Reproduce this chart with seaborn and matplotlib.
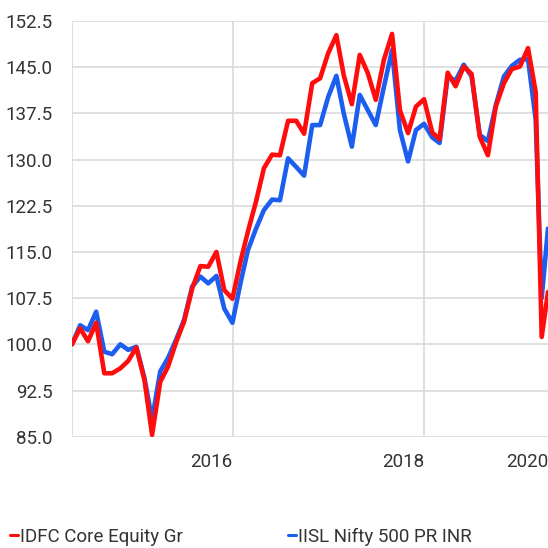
import matplotlib
matplotlib.use("Agg")
import matplotlib.pyplot as plt
from matplotlib.lines import Line2D
import numpy as np
import pandas as pd
import seaborn as sns

# ---------------- data ----------------
series_names = ["IDFC Core Equity Gr", "IISL Nifty 500 PR INR"]
series_colors = ["#ff0d0d", "#1c5ef0"]

month_ends = list(pd.date_range("2015-04-01", periods=59, freq="MS") + pd.offsets.MonthEnd(0))
extra_dates = [pd.Timestamp("2020-03-23"), pd.Timestamp("2020-04-16")]
dates = month_ends + extra_dates

idfc = [100.0, 102.6, 100.5, 103.5, 95.3, 95.3, 96.1, 97.3, 99.5, 94.2,
        85.3, 93.9, 96.4, 100.4, 103.7, 109.1, 112.7, 112.6, 115.0, 108.8,
        107.4, 113.5, 118.3, 123.2, 128.6, 130.8, 130.7, 136.3, 136.3, 134.2,
        142.4, 143.2, 147.3, 150.2, 143.7, 139.0, 147.0, 144.0, 139.7, 146.2,
        150.4, 138.0, 134.3, 138.6, 139.8, 134.4, 133.3, 144.1, 141.9, 145.1,
        143.9, 133.7, 130.7, 138.6, 142.4, 144.7, 145.1, 148.1, 141.0,
        101.2, 108.5]

nifty = [100.0, 103.1, 102.3, 105.3, 98.8, 98.4, 100.0, 99.1, 99.6, 94.5,
         87.8, 95.6, 97.8, 100.8, 104.0, 109.4, 111.0, 109.9, 111.1, 105.8,
         103.5, 110.0, 115.3, 118.8, 121.8, 123.5, 123.4, 130.2, 128.8, 127.4,
         135.6, 135.6, 140.2, 143.6, 137.5, 132.1, 140.5, 138.0, 135.6, 141.8,
         147.8, 134.8, 129.7, 134.8, 135.8, 133.6, 132.7, 143.5, 142.8, 145.4,
         143.5, 134.0, 133.0, 138.8, 143.5, 145.2, 146.2, 146.3, 136.5,
         107.5, 118.8]

y_ticks = [85.0, 92.5, 100.0, 107.5, 115.0, 122.5, 130.0, 137.5, 145.0, 152.5]
x_tick_dates = [pd.Timestamp("2017-01-01"), pd.Timestamp("2019-01-01")]
x_tick_labels = ["2016", "2018"]
x_end_label = "2020"

# ---------------- style ----------------
sns.set_style("white")
plt.rcParams["font.family"] = ["Liberation Sans Narrow", "Roboto", "DejaVu Sans"]

grid_color = "#dadada"
text_color = "#333333"
fs = 13.5

df = pd.DataFrame({
    "date": dates * 2,
    "value": idfc + nifty,
    "series": [series_names[0]] * len(dates) + [series_names[1]] * len(dates),
})

fig = plt.figure(figsize=(5.48, 5.48), dpi=100)
ax = fig.add_axes([72 / 548, 1 - 436.7 / 548, 476 / 548, (436.7 - 21) / 548])

sns.lineplot(data=df, x="date", y="value", hue="series",
             hue_order=[series_names[1], series_names[0]],
             palette={series_names[0]: series_colors[0], series_names[1]: series_colors[1]},
             linewidth=3.3, legend=False, ax=ax)

ax.set_xlim(dates[0], dates[-1])
ax.set_ylim(85, 152.5)
ax.set_xlabel("")
ax.set_ylabel("")

for s in ax.spines.values():
    s.set_visible(False)

ax.set_yticks(y_ticks)
ax.set_yticklabels([f"{v:.1f}" for v in y_ticks])
ax.set_xticks([dates[0]] + x_tick_dates)
ax.set_xticklabels([""] + x_tick_labels, ha="right")
ax.set_xticks([dates[-1]], minor=True)
ax.set_xticklabels([x_end_label], minor=True, ha="right")

ax.grid(True, which="major", color=grid_color, linewidth=1.2)
ax.grid(False, which="minor")
ax.set_axisbelow(True)
ax.tick_params(axis="both", which="major", direction="out", length=10, width=1.2,
               color=grid_color, labelsize=fs, labelcolor=text_color)
ax.tick_params(axis="y", which="major", pad=4)
ax.tick_params(axis="x", which="major", pad=2)
ax.tick_params(axis="x", which="minor", length=0, pad=12, labelsize=fs, labelcolor=text_color)

handles = [Line2D([], [], color=series_colors[0], lw=2.2),
           Line2D([], [], color=series_colors[1], lw=2.2)]
fig.legend(handles, series_names, ncol=2, loc="lower left",
           bbox_to_anchor=(10 / 548, 2 / 548), frameon=False,
           handlelength=0.42, handletextpad=0.12, columnspacing=5.6,
           fontsize=fs, borderpad=0, borderaxespad=0, labelcolor=text_color)

fig.savefig("out.png", dpi=100)
